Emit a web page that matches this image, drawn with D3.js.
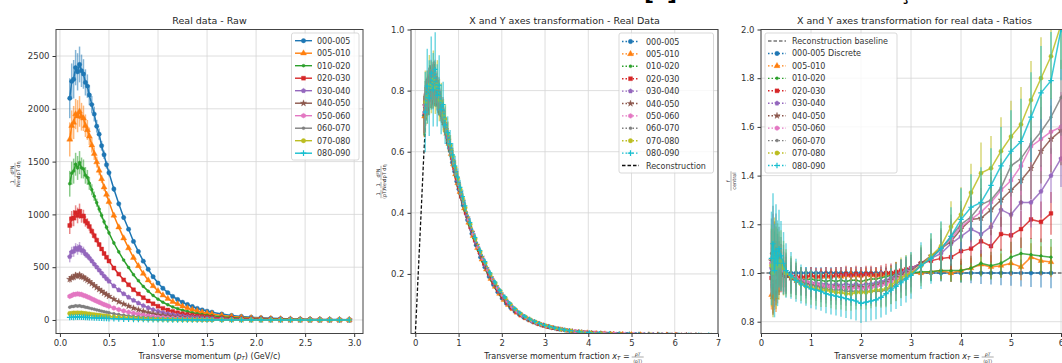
<!DOCTYPE html>
<meta charset="utf-8">
<style>
body { margin: 0; background: #fff; }
svg text { font-family: "DejaVu Sans", sans-serif; }
</style>
<svg width="1062" height="363"></svg>
<script src="https://d3js.org/d3.v7.min.js"></script>
<script>

var centralities = ["000-005","005-010","010-020","020-030","030-040","040-050","050-060","060-070","070-080","080-090"];
var colors = ["#1f77b4","#ff7f0e","#2ca02c","#d62728","#9467bd","#8c564b","#e377c2","#7f7f7f","#bcbd22","#17becf"];
var markers = ["o","^",".","s","p","*","h",".","o","+"];

// transverse momentum bins (GeV/c)
var pt = [0.10,0.12,0.14,0.16,0.18,0.20,0.22,0.24,0.26,0.28,0.30,0.325,0.35,0.375,0.40,0.425,0.45,0.475,0.50,
          0.55,0.60,0.65,0.70,0.75,0.80,0.85,0.90,0.95,1.00,1.05,1.10,1.15,1.20,1.25,1.30,1.35,1.40,1.45,1.50,
          1.55,1.65,1.75,1.85,1.95,2.05,2.15,2.25,2.35,2.45,2.55,2.65,2.75,2.85,2.95];

// raw spectra, one array per centrality class
var yield000_005 = [2100,2260,2280,2390,2350,2420,2360,2330,2250,2215,2130,2040,1950,1835,1760,1650,1565,1470,1395,1240,1100,970,860,744,648,557,480,410,350,300,259,223,194,168,146,127,110,96,84,74,56,43,34,26,21,16,13,10.3,8.4,6.7,5.5,4.6,3.8,3.1];
var yield005_010 = [1710,1840,1870,1950,1930,1975,1925,1910,1840,1800,1740,1655,1575,1495,1416,1336,1257,1188,1119,990,879,775,681,590,512,439,377,322,274,234,202,173,151,130,113,98,85,73,64,56.5,42.7,32.5,25.0,19.6,15.3,12.0,9.5,7.5,6.1,4.8,4.0,3.3,2.7,2.2];
var yield010_020 = [1290,1390,1410,1475,1440,1490,1440,1430,1370,1350,1294,1233,1172,1111,1050,990,930,878,825,729,645,567,497,429,372,318,273,232,197,168,144,123,107,92,80,69,59,51,45,39.4,29.5,22.4,17.2,13.4,10.3,8.1,6.4,5.0,4.0,3.2,2.6,2.1,1.8,1.4];
var yield020_030 = [895,960,965,1015,990,1030,985,985,935,917,885,841,798,756,714,672,630,594,558,492,434,380,333,286,247,211,180,153,130,110,94,80.5,69.6,59.6,51.5,44.4,38.3,33.0,28.6,25.2,18.8,14.1,10.8,8.4,6.4,5.0,3.9,3.1,2.5,1.9,1.6,1.3,1.05,0.84];
var yield030_040 = [600,645,650,680,668,690,660,655,625,610,588,559,529,501,472,444,416,391,367,322,284,248,216,186,160,136,116,98,83,70,60,51,44,37.7,32.5,27.9,24.0,20.6,17.8,15.6,11.6,8.7,6.6,5.1,3.9,3.0,2.3,1.8,1.45,1.14,0.91,0.74,0.61,0.49];
var yield040_050 = [385,402,405,424,415,428,410,406,391,378,364,345,327,308,290,273,255,240,225,197,173,151,131,112,96.4,81.7,69.5,58.6,49.4,41.7,35.6,30.2,26.0,22.1,19.0,16.3,14.0,12.0,10.3,9.0,6.7,5.0,3.8,2.9,2.2,1.7,1.3,1.0,0.80,0.62,0.50,0.40,0.33,0.26];
var yield050_060 = [224,232,242,243,248,244,242,233,228,219,212,200,189,178,168,157,147,138,129,113,98.6,85.8,74.4,63.6,54.5,46.0,39.1,32.9,27.6,23.3,19.8,16.8,14.3,12.2,10.5,8.9,7.6,6.5,5.6,4.9,3.6,2.7,2.0,1.5,1.16,0.89,0.68,0.52,0.41,0.32,0.25,0.20,0.17,0.13];
var yield060_070 = [121,128,128.5,134,131,134,128.5,127,121,118.5,112.5,107.0,101.0,95.1,89.4,83.7,78.1,73.2,68.4,59.6,52.0,45.1,39.0,33.2,28.4,23.9,20.3,17.0,14.3,12.0,10.1,8.6,7.3,6.2,5.3,4.5,3.9,3.3,2.8,2.5,1.8,1.3,0.99,0.75,0.56,0.43,0.33,0.25,0.20,0.15,0.12,0.096,0.078,0.061];
var yield070_080 = [61.5,62.8,66.0,65.4,67.5,65.2,66.1,62.0,61.5,58.0,57.0,53.2,50.1,47.1,44.2,41.3,38.5,36.0,33.6,29.2,25.4,22.0,19.0,16.1,13.7,11.6,9.8,8.2,6.8,5.7,4.8,4.1,3.5,2.9,2.5,2.1,1.8,1.5,1.3,1.14,0.83,0.61,0.45,0.34,0.26,0.19,0.15,0.11,0.087,0.067,0.053,0.042,0.034,0.026];
var yield080_090 = [24.0,26.8,25.5,28.2,26.4,28.6,25.8,26.9,24.3,24.8,22.6,21.8,20.6,19.4,18.2,17.0,15.9,14.9,13.9,12.1,10.5,9.1,7.9,6.7,5.7,4.8,4.1,3.4,2.85,2.4,2.0,1.71,1.46,1.24,1.05,0.90,0.76,0.65,0.56,0.48,0.35,0.26,0.19,0.146,0.110,0.083,0.064,0.049,0.038,0.029,0.023,0.018,0.015,0.012];
var yields = [yield000_005,yield005_010,yield010_020,yield020_030,yield030_040,yield040_050,yield050_060,yield060_070,yield070_080,yield080_090];

// relative uncertainty per bin and per class
var relErr = [0.09,0.075,0.08,0.07,0.075,0.07,0.065,0.06,0.055,0.05,0.045,0.04,0.036,0.033,0.03,0.028,0.026,0.025,0.024,
              0.022,0.021,0.02,0.02,0.02,0.02,0.02,0.02,0.021,0.021,0.022,0.022,0.023,0.023,0.024,0.024,0.025,0.025,0.026,0.026,
              0.027,0.028,0.029,0.03,0.031,0.032,0.033,0.034,0.035,0.036,0.037,0.038,0.039,0.04,0.041];
var errScale = [1,1.05,1.05,1.0,1.0,0.9,1.0,1.2,1.5,2.0];

// axis transformation factors per class (x_T = p_T * xtScale, y = yield * ytScale)
var xtScale = [2.0,2.04,2.08,2.12,2.16,2.20,2.24,2.28,2.32,2.30];
var ytScale = [3.42e-4,4.18e-4,5.58e-4,8.12e-4,1.215e-3,1.95e-3,3.35e-3,6.2e-3,1.24e-2,3.04e-2];

// reconstruction curve
var recoX = [0,0.05,0.1,0.15,0.2,0.25,0.3,0.35,0.4,0.5,0.6,0.8,1.0,1.2,1.5,2.0,2.5,3.0,3.5,4.0,5.0,6.0,7.0];
var recoY = [0,0.15,0.30,0.45,0.60,0.72,0.79,0.82,0.82,0.78,0.73,0.60,0.47,0.375,0.255,0.12,0.058,0.029,0.015,0.0082,0.0029,0.0011,0.0005];

// ratios to the reconstruction
var ratioGrid = [0.21,0.24,0.27,0.30,0.33,0.36,0.40,0.45,0.50,0.60,0.70,0.80,0.90,1.00,1.10,1.20,1.30,1.40,1.50,1.60,
                 1.70,1.80,1.90,2.00,2.10,2.20,2.30,2.40,2.50,2.60,2.70,2.80,2.90,3.00,3.20,3.40,3.60,3.80,4.00,4.20,
                 4.40,4.60,4.80,5.00,5.20,5.40,5.60,5.80,6.00,6.20];
var ratio000_005 = [1,1,1,1,1,1,1,1,1,1, 1,1,1,1,1,1,1,1,1,1, 1,1,1,1,1,1,1,1,1,1, 1,1,1,1,1,1,1,1,1,1, 1,1,1,1,1,1,1,1,null,null];
var ratio005_010 = [0.91,0.90,0.92,0.90,0.93,0.97,1.00,1.01,1.00,0.99, 0.985,0.98,0.985,0.99,0.985,0.99,0.985,0.99,0.99,0.985, 0.99,0.995,0.99,0.99,0.995,0.99,0.995,0.99,0.995,1.00, 1.00,1.00,1.00,1.00,1.00,1.005,1.01,1.00,1.01,1.02, 1.035,1.025,1.03,1.04,1.025,1.065,1.05,1.045,null,null];
var ratio010_020 = [1.00,0.97,1.02,0.98,1.01,0.99,1.00,0.99,0.985,0.98, 0.975,0.975,0.97,0.975,0.97,0.97,0.965,0.97,0.965,0.97, 0.965,0.97,0.97,0.965,0.97,0.975,0.975,0.98,0.985,0.99, 0.995,1.00,1.00,1.00,1.005,1.005,1.01,1.01,1.01,1.02, 1.04,1.03,1.04,1.065,1.08,1.075,1.07,1.065,null,null];
var ratio020_030 = [0.98,0.99,0.97,1.00,0.98,1.00,1.00,0.995,0.99,0.99, 0.985,0.985,0.985,0.99,0.985,0.985,0.99,0.985,0.99,0.99, 0.995,0.99,0.995,0.99,0.995,0.995,0.99,0.995,1.00,1.00, 1.005,1.01,1.015,1.02,1.04,1.05,1.06,1.065,1.09,1.10, 1.13,1.11,1.16,1.155,1.18,1.22,1.21,1.245,null,null];
var ratio030_040 = [1.02,0.95,1.06,0.99,1.03,1.00,1.01,0.995,0.99,0.98, 0.975,0.97,0.965,0.96,0.96,0.955,0.955,0.95,0.955,0.95, 0.955,0.95,0.955,0.95,0.955,0.955,0.96,0.965,0.97,0.98, 0.99,1.00,1.01,1.02,1.04,1.06,1.08,1.12,1.15,1.18, 1.16,1.19,1.26,1.24,1.29,1.29,1.335,1.40,1.47,1.52];
var ratio040_050 = [1.05,0.97,1.08,1.00,1.04,1.02,1.02,1.00,0.99,0.98, 0.97,0.965,0.96,0.955,0.95,0.945,0.945,0.94,0.945,0.94, 0.94,0.94,0.945,0.94,0.94,0.945,0.95,0.955,0.96,0.97, 0.98,0.99,1.00,1.01,1.04,1.07,1.10,1.13,1.18,1.22, 1.225,1.26,1.30,1.34,1.38,1.43,1.50,1.55,1.585,1.65];
var ratio050_060 = [1.04,1.10,0.98,1.06,1.02,1.04,1.02,1.01,1.00,0.99, 0.98,0.97,0.965,0.96,0.955,0.95,0.945,0.945,0.94,0.94, 0.94,0.935,0.94,0.935,0.94,0.94,0.945,0.95,0.955,0.965, 0.975,0.985,0.995,1.005,1.03,1.06,1.10,1.14,1.19,1.22, 1.25,1.29,1.34,1.38,1.44,1.52,1.55,1.58,1.60,1.68];
var ratio060_070 = [1.08,1.12,1.03,1.10,1.05,1.07,1.04,1.02,1.00,0.99, 0.975,0.965,0.955,0.95,0.945,0.94,0.935,0.93,0.93,0.93, 0.925,0.925,0.925,0.925,0.925,0.925,0.925,0.925,0.93,0.94, 0.955,0.97,0.98,0.995,1.03,1.06,1.10,1.15,1.20,1.23, 1.28,1.30,1.35,1.44,1.47,1.53,1.58,1.64,1.72,1.80];
var ratio070_080 = [1.03,1.00,1.06,1.02,1.05,1.03,1.05,1.02,1.00,0.985, 0.97,0.955,0.945,0.94,0.935,0.93,0.93,0.925,0.92,0.92, 0.915,0.915,0.92,0.92,0.92,0.925,0.93,0.93,0.935,0.95, 0.965,0.98,0.99,1.00,1.03,1.07,1.11,1.19,1.24,1.33, 1.41,1.43,1.50,1.56,1.61,1.71,1.80,1.89,2.02,2.15];
var ratio080_090 = [1.06,1.12,1.01,1.09,1.04,1.10,1.07,1.04,1.01,0.99, 0.97,0.955,0.945,0.935,0.93,0.925,0.915,0.91,0.905,0.90, 0.895,0.89,0.885,0.875,0.88,0.885,0.89,0.90,0.915,0.93, 0.945,0.96,0.975,0.99,1.03,1.06,1.10,1.15,1.22,1.27, 1.29,1.36,1.44,1.50,1.54,1.64,1.74,1.79,2.00,2.20];
var ratios = [ratio000_005,ratio005_010,ratio010_020,ratio020_030,ratio030_040,ratio040_050,ratio050_060,ratio060_070,ratio070_080,ratio080_090];
var ratioErr = [0.12,0.13,0.12,0.12,0.11,0.10,0.09,0.08,0.07,0.06, 0.055,0.05,0.05,0.05,0.05,0.05,0.05,0.05,0.05,0.05, 0.05,0.05,0.05,0.05,0.05,0.05,0.05,0.052,0.054,0.056, 0.058,0.06,0.06,0.06,0.06,0.065,0.07,0.075,0.08,0.085, 0.09,0.095,0.10,0.105,0.11,0.115,0.12,0.125,0.13,0.135];
var ratioErrScale = [0.5,0.5,0.6,0.7,0.9,1.1,1.1,1.2,1.4,1.6];

var svg = d3.select("svg"),
    defs = svg.append("defs");

var boxTop = 29.5, boxH = 304, boxW = 307;

function markerPath(type, r) {
  if (type == "o") return d3.symbol(d3.symbolCircle, Math.PI * r * r)();
  if (type == ".") return d3.symbol(d3.symbolCircle, Math.PI * r * r * 0.45)();
  if (type == "^") return d3.symbol(d3.symbolTriangle, r * r * 3.2)();
  if (type == "s") return d3.symbol(d3.symbolSquare, r * r * 3.2)();
  if (type == "*") return d3.symbol(d3.symbolStar, r * r * 2.6)();
  if (type == "p" || type == "h") {
    var n = type == "p" ? 5 : 6;
    var pts = d3.range(n).map(function(k) {
      var a = -Math.PI / 2 + 2 * Math.PI * k / n;
      return [r * 1.1 * Math.cos(a), r * 1.1 * Math.sin(a)];
    });
    return "M" + pts.join("L") + "Z";
  }
  var s = r * 1.3;
  return "M" + (-s) + ",0H" + s + "M0," + (-s) + "V" + s;
}

function makePanel(id, left, xDom, yDom, xTicks, yTicks, xFmt, yFmt) {
  var x = d3.scaleLinear().domain(xDom).range([left, left + boxW]),
      y = d3.scaleLinear().domain(yDom).range([boxTop + boxH, boxTop]);
  var g = svg.append("g");
  var grid = g.append("g").attr("stroke", "#d6d6d6").attr("stroke-width", 0.8);
  grid.selectAll(".gx").data(xTicks).join("line").attr("class", "gx")
      .attr("x1", d => x(d)).attr("x2", d => x(d))
      .attr("y1", boxTop).attr("y2", boxTop + boxH);
  grid.selectAll(".gy").data(yTicks).join("line").attr("class", "gy")
      .attr("x1", left).attr("x2", left + boxW)
      .attr("y1", d => y(d)).attr("y2", d => y(d));

  defs.append("clipPath").attr("id", id).append("rect")
      .attr("x", left).attr("y", boxTop).attr("width", boxW).attr("height", boxH);
  var plot = g.append("g").attr("clip-path", "url(#" + id + ")");

  var ax = g.append("g").attr("transform", "translate(0," + (boxTop + boxH) + ")")
      .call(d3.axisBottom(x).tickValues(xTicks).tickFormat(xFmt).tickSize(3.5).tickPadding(3));
  var ay = g.append("g").attr("transform", "translate(" + left + ",0)")
      .call(d3.axisLeft(y).tickValues(yTicks).tickFormat(yFmt).tickSize(3.5).tickPadding(3));
  [ax, ay].forEach(function(a) {
    a.select(".domain").remove();
    a.selectAll("text").attr("font-size", 8.5).attr("fill", "#333");
    a.selectAll("line").attr("stroke", "#333");
  });
  return {x: x, y: y, g: g, plot: plot, left: left};
}

function frame(p) {
  p.g.append("rect").attr("x", p.left).attr("y", boxTop).attr("width", boxW).attr("height", boxH)
     .attr("fill", "none").attr("stroke", "#444").attr("stroke-width", 1);
}

function drawSeries(p, pts, color, mk, r, opt) {
  var ok = pts.filter(d => d[1] != null);
  p.plot.append("g").attr("stroke", color).attr("stroke-width", opt.ew).attr("opacity", opt.ea)
    .selectAll("line").data(ok).join("line")
      .attr("x1", d => p.x(d[0])).attr("x2", d => p.x(d[0]))
      .attr("y1", d => p.y(d[1] - d[2])).attr("y2", d => p.y(d[1] + d[2]));
  p.plot.append("path").datum(pts)
      .attr("d", d3.line().defined(d => d[1] != null).x(d => p.x(d[0])).y(d => p.y(d[1])))
      .attr("fill", "none").attr("stroke", color).attr("stroke-width", opt.lw)
      .attr("stroke-dasharray", opt.dash).attr("opacity", opt.la);
  p.plot.append("g").selectAll("path").data(ok).join("path")
      .attr("transform", d => "translate(" + p.x(d[0]) + "," + p.y(d[1]) + ")")
      .attr("d", markerPath(mk, r))
      .attr("fill", mk == "+" ? "none" : color)
      .attr("stroke", color).attr("stroke-width", mk == "+" ? 1.2 : 0.4);
}

function drawLegend(p, bx, by, bw, bh, items, y0, dy, h1, h2, tx) {
  var lg = p.g.append("g");
  lg.append("rect").attr("x", bx).attr("y", by).attr("width", bw).attr("height", bh).attr("rx", 2)
    .attr("fill", "#fff").attr("fill-opacity", 0.8).attr("stroke", "#cfcfcf").attr("stroke-width", 0.8);
  items.forEach(function(it, k) {
    var yy = y0 + k * dy;
    lg.append("line").attr("x1", h1).attr("x2", h2).attr("y1", yy).attr("y2", yy)
      .attr("stroke", it.color).attr("stroke-width", it.lw || 1.4).attr("stroke-dasharray", it.dash);
    if (it.marker) {
      lg.append("path").attr("transform", "translate(" + ((h1 + h2) / 2) + "," + yy + ")")
        .attr("d", markerPath(it.marker, 2.2))
        .attr("fill", it.marker == "+" ? "none" : it.color)
        .attr("stroke", it.color).attr("stroke-width", it.marker == "+" ? 1.2 : 0.4);
    }
    lg.append("text").attr("x", tx).attr("y", yy + 3).attr("font-size", 8).attr("fill", "#333").text(it.label);
  });
}

function title(cx, txt) {
  svg.append("text").attr("x", cx).attr("y", 24).attr("text-anchor", "middle")
     .attr("font-size", 9.5).attr("fill", "#262626").text(txt);
}

function yFrac(cx, cy, parts) {
  var gg = svg.append("g").attr("transform", "translate(" + cx + "," + cy + ") rotate(-90)")
      .attr("font-size", 5).attr("fill", "#333");
  var total = d3.sum(parts, d => d.w) + parts.length - 1, xx = -total / 2;
  parts.forEach(function(pp) {
    var c = xx + pp.w / 2;
    gg.append("text").attr("x", c).attr("y", -1.4).attr("text-anchor", "middle").text(pp.num);
    gg.append("line").attr("x1", xx + 0.3).attr("x2", xx + pp.w - 0.3).attr("y1", 0).attr("y2", 0)
      .attr("stroke", "#333").attr("stroke-width", 0.4);
    gg.append("text").attr("x", c).attr("y", 5).attr("text-anchor", "middle").text(pp.den);
    xx += pp.w + 1;
  });
}

function xFracLabel(cx, y) {
  var t = svg.append("text").attr("y", y).attr("font-size", 8).attr("fill", "#262626");
  t.append("tspan").text("Transverse momentum fraction ");
  t.append("tspan").attr("font-style", "italic").text("x");
  t.append("tspan").attr("font-size", 5.5).attr("dy", 1.5).attr("font-style", "italic").text("T");
  t.append("tspan").attr("dy", -1.5).text(" = ");
  var w = t.node().getComputedTextLength(), fw = 14;
  var x0 = cx - (w + fw + 1) / 2;
  t.attr("x", x0);
  var fc = x0 + w + 1 + fw / 2;
  svg.append("text").attr("x", fc).attr("y", y - 3).attr("text-anchor", "middle")
     .attr("font-size", 4.5).attr("font-style", "italic").attr("fill", "#262626").text("pT");
  svg.append("line").attr("x1", fc - fw / 2 + 1).attr("x2", fc + fw / 2 - 1).attr("y1", y - 1.5).attr("y2", y - 1.5)
     .attr("stroke", "#262626").attr("stroke-width", 0.4);
  svg.append("text").attr("x", fc).attr("y", y + 4).attr("text-anchor", "middle")
     .attr("font-size", 4.5).attr("fill", "#262626").text("⟨pT⟩");
}

// ---------- panel 1: raw spectra ----------
var p1 = makePanel("c1", 56, [-0.04, 3.09], [-128, 2751],
                   [0,0.5,1.0,1.5,2.0,2.5,3.0], [0,500,1000,1500,2000,2500], d3.format(".1f"), d3.format("d"));
yields.forEach(function(ys, i) {
  var pts = pt.map((p, j) => [p, ys[j], ys[j] * relErr[j] * errScale[i]]);
  drawSeries(p1, pts, colors[i], markers[i], 2.2, {lw: 1.5, ew: 1.5, ea: 0.55, la: 1, dash: null});
});
frame(p1);
drawLegend(p1, 291.5, 33, 67.5, 127,
  centralities.map((c, i) => ({label: c, color: colors[i], marker: markers[i]})),
  40.7, 12.5, 295, 312, 317);
title(209.5, "Real data - Raw");
var xl1 = svg.append("text").attr("x", 209.5).attr("y", 358.5).attr("text-anchor", "middle")
  .attr("font-size", 8).attr("fill", "#262626");
xl1.append("tspan").text("Transverse momentum (");
xl1.append("tspan").attr("font-style", "italic").text("p");
xl1.append("tspan").attr("font-size", 5.5).attr("dy", 1.5).attr("font-style", "italic").text("T");
xl1.append("tspan").attr("dy", -1.5).text(") (GeV/c)");
yFrac(15, 174, [{num: "1", den: "Nev", w: 7}, {num: "d²N", den: "dpT dη", w: 15}]);

// ---------- panel 2: transformed axes ----------
var p2 = makePanel("c2", 411, [-0.1, 7.0], [0.005, 1.0],
                   [0,1,2,3,4,5,6,7], [0.2,0.4,0.6,0.8,1.0], d3.format("d"), d3.format(".1f"));
p2.plot.append("path").datum(recoX.map((v, j) => [v, recoY[j]]))
  .attr("d", d3.line().curve(d3.curveMonotoneX).x(d => p2.x(d[0])).y(d => p2.y(d[1])))
  .attr("fill", "none").attr("stroke", "#111").attr("stroke-width", 1.3).attr("stroke-dasharray", "3.5,2");
yields.forEach(function(ys, i) {
  var pts = pt.map((p, j) => [p * xtScale[i], ys[j] * ytScale[i], ys[j] * relErr[j] * errScale[i] * ytScale[i]]);
  drawSeries(p2, pts, colors[i], markers[i], 1.8, {lw: 1.5, ew: 1.5, ea: 0.6, la: 1, dash: "1.5,2"});
});
frame(p2);
var leg2 = centralities.map((c, i) => ({label: c, color: colors[i], marker: markers[i], dash: "1.5,2"}));
leg2.push({label: "Reconstruction", color: "#111", dash: "3.5,2", lw: 1.3});
drawLegend(p2, 619, 33, 94.5, 140, leg2, 41.5, 12.4, 622, 639, 646);
title(564.5, "X and Y axes transformation - Real Data");
xFracLabel(564.5, 358.5);
yFrac(381, 182, [{num: "1", den: "⟨pT⟩", w: 9}, {num: "1", den: "Nev", w: 7}, {num: "d²N", den: "dpT dη", w: 15}]);

// ---------- panel 3: ratios ----------
var p3 = makePanel("c3", 761, [0, 6.14], [0.7515, 2.0],
                   [0,1,2,3,4,5,6], [0.8,1.0,1.2,1.4,1.6,1.8,2.0], d3.format("d"), d3.format(".1f"));
p3.plot.append("line").attr("x1", p3.x(0)).attr("x2", p3.x(6.14)).attr("y1", p3.y(1)).attr("y2", p3.y(1))
  .attr("stroke", "#333").attr("stroke-width", 1.2).attr("stroke-dasharray", "3.5,2");
ratios.forEach(function(rs, i) {
  var pts = ratioGrid.map((xv, j) => [xv, rs[j], ratioErr[j] * ratioErrScale[i]]);
  drawSeries(p3, pts, colors[i], markers[i], 2.1, {lw: 1.5, ew: 1.5, ea: 0.6, la: 0.85, dash: null});
});
frame(p3);
var leg3 = [{label: "Reconstruction baseline", color: "#333", dash: "3.5,2", lw: 1.2}];
centralities.forEach((c, i) => leg3.push({label: i == 0 ? c + " Discrete" : c, color: colors[i], marker: markers[i], dash: "1.5,2"}));
drawLegend(p3, 765, 33, 132, 140, leg3, 41, 12.45, 768, 786, 792);
title(914.5, "X and Y axes transformation for real data - Ratios");
xFracLabel(914.5, 358.5);
yFrac(731, 181, [{num: "f", den: "central", w: 20}]);

// fragments of the heading above, cut by the top edge
svg.append("text").attr("x", 644).attr("y", 0).attr("font-size", 22).attr("font-weight", "bold").attr("fill", "#000").text("[");
svg.append("text").attr("x", 667).attr("y", 0).attr("font-size", 22).attr("font-weight", "bold").attr("fill", "#000").text("]");
svg.append("text").attr("x", 905).attr("y", 0).attr("text-anchor", "middle").attr("font-size", 18).attr("font-weight", "bold").attr("fill", "#000").text("ç");

</script>
